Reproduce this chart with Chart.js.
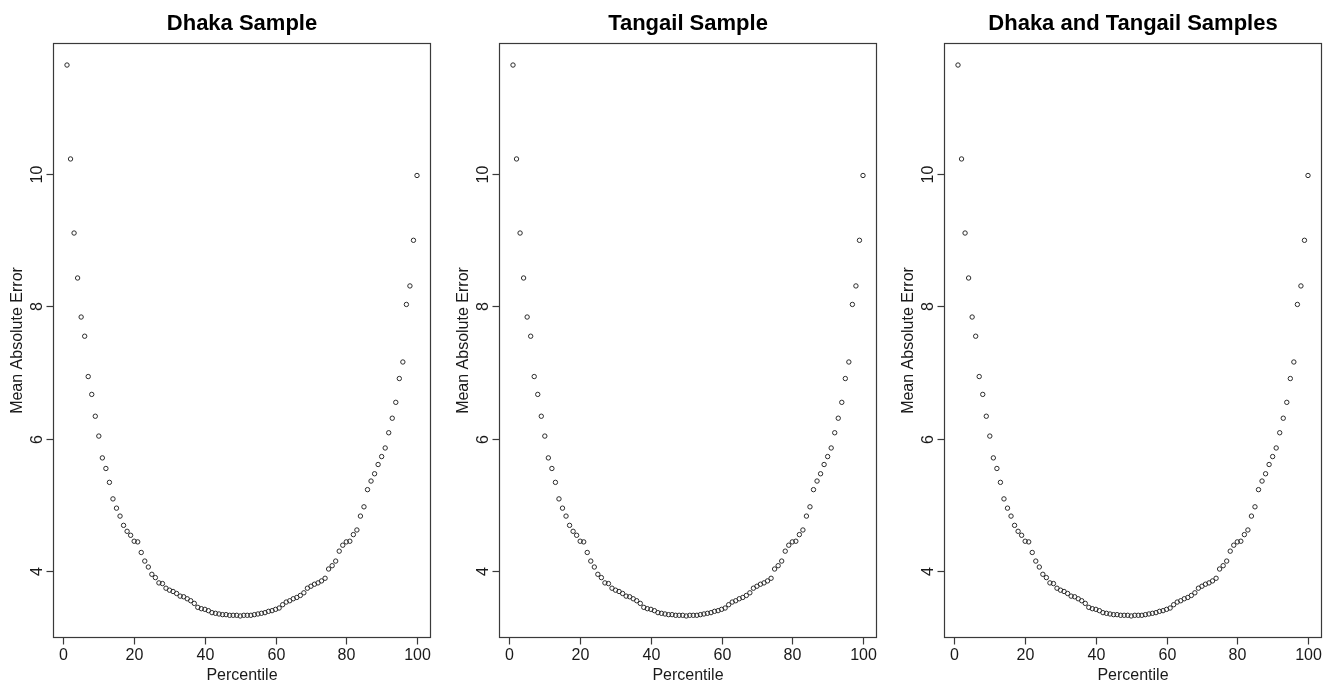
<!DOCTYPE html>
<html>
<head>
<meta charset="utf-8">
<script src="https://cdn.jsdelivr.net/npm/chart.js@4"></script>
<style>
  html, body { margin: 0; padding: 0; background: #ffffff; }
  #wrap { position: relative; width: 1328px; height: 683px; overflow: hidden; }
  .panel { position: absolute; top: 0; width: 437px; height: 683px; }
</style>
</head>
<body>
<div id="wrap">
  <div class="panel" style="left:0px"><canvas id="c0" width="437" height="683"></canvas></div>
  <div class="panel" style="left:446px"><canvas id="c1" width="437" height="683"></canvas></div>
  <div class="panel" style="left:891px"><canvas id="c2" width="437" height="683"></canvas></div>
</div>
<script>
const percentiles = [1,2,3,4,5,6,7,8,9,10,11,12,13,14,15,16,17,18,19,20,
  21,22,23,24,25,26,27,28,29,30,31,32,33,34,35,36,37,38,39,40,
  41,42,43,44,45,46,47,48,49,50,51,52,53,54,55,56,57,58,59,60,
  61,62,63,64,65,66,67,68,69,70,71,72,73,74,75,76,77,78,79,80,
  81,82,83,84,85,86,87,88,89,90,91,92,93,94,95,96,97,98,99,100];

const dhakaMAE = [11.65,10.23,9.11,8.43,7.84,7.55,6.94,6.67,6.34,6.04,
  5.71,5.55,5.34,5.09,4.95,4.83,4.69,4.60,4.54,4.45,
  4.44,4.28,4.15,4.06,3.95,3.90,3.82,3.81,3.74,3.71,
  3.69,3.66,3.62,3.61,3.58,3.55,3.51,3.45,3.43,3.42,
  3.40,3.37,3.36,3.35,3.34,3.34,3.33,3.33,3.33,3.32,
  3.33,3.33,3.33,3.34,3.35,3.36,3.37,3.39,3.40,3.42,
  3.44,3.49,3.53,3.55,3.58,3.60,3.63,3.67,3.74,3.77,
  3.80,3.82,3.85,3.89,4.03,4.08,4.15,4.30,4.39,4.44,
  4.45,4.55,4.62,4.83,4.97,5.23,5.36,5.47,5.61,5.73,
  5.86,6.09,6.31,6.55,6.91,7.16,8.03,8.31,9.00,9.98];

const tangailMAE = [11.65,10.23,9.11,8.43,7.84,7.55,6.94,6.67,6.34,6.04,
  5.71,5.55,5.34,5.09,4.95,4.83,4.69,4.60,4.54,4.45,
  4.44,4.28,4.15,4.06,3.95,3.90,3.82,3.81,3.74,3.71,
  3.69,3.66,3.62,3.61,3.58,3.55,3.51,3.45,3.43,3.42,
  3.40,3.37,3.36,3.35,3.34,3.34,3.33,3.33,3.33,3.32,
  3.33,3.33,3.33,3.34,3.35,3.36,3.37,3.39,3.40,3.42,
  3.44,3.49,3.53,3.55,3.58,3.60,3.63,3.67,3.74,3.77,
  3.80,3.82,3.85,3.89,4.03,4.08,4.15,4.30,4.39,4.44,
  4.45,4.55,4.62,4.83,4.97,5.23,5.36,5.47,5.61,5.73,
  5.86,6.09,6.31,6.55,6.91,7.16,8.03,8.31,9.00,9.98];

const combinedMAE = [11.65,10.23,9.11,8.43,7.84,7.55,6.94,6.67,6.34,6.04,
  5.71,5.55,5.34,5.09,4.95,4.83,4.69,4.60,4.54,4.45,
  4.44,4.28,4.15,4.06,3.95,3.90,3.82,3.81,3.74,3.71,
  3.69,3.66,3.62,3.61,3.58,3.55,3.51,3.45,3.43,3.42,
  3.40,3.37,3.36,3.35,3.34,3.34,3.33,3.33,3.33,3.32,
  3.33,3.33,3.33,3.34,3.35,3.36,3.37,3.39,3.40,3.42,
  3.44,3.49,3.53,3.55,3.58,3.60,3.63,3.67,3.74,3.77,
  3.80,3.82,3.85,3.89,4.03,4.08,4.15,4.30,4.39,4.44,
  4.45,4.55,4.62,4.83,4.97,5.23,5.36,5.47,5.61,5.73,
  5.86,6.09,6.31,6.55,6.91,7.16,8.03,8.31,9.00,9.98];

const panelTitles = ['Dhaka Sample', 'Tangail Sample', 'Dhaka and Tangail Samples'];
const xTicks = [0, 20, 40, 60, 80, 100];
const yTicks = [4, 6, 8, 10];
const xLabel = 'Percentile';
const yLabel = 'Mean Absolute Error';

const FONT = '"Liberation Sans", Arial, Helvetica, sans-serif';

// R-style frame, ticks, labels and title drawn through the chart's own scales
const rStyle = {
  id: 'rStyle',
  afterDraw(chart, args, opts) {
    const ctx = chart.ctx;
    const a = chart.chartArea;
    const xs = chart.scales.x, ys = chart.scales.y;
    ctx.save();
    ctx.strokeStyle = '#3a3a3a';
    ctx.lineWidth = 1.2;
    const L = Math.round(a.left) + 0.5, T = Math.round(a.top) + 0.5;
    const R = Math.round(a.right) - 0.5, B = Math.round(a.bottom) - 0.5;
    ctx.strokeRect(L, T, R - L, B - T);

    ctx.fillStyle = '#1a1a1a';
    ctx.font = '16px ' + FONT;
    // x ticks
    ctx.textAlign = 'center';
    ctx.textBaseline = 'alphabetic';
    xTicks.forEach(v => {
      const px = Math.round(xs.getPixelForValue(v)) + 0.5;
      ctx.beginPath(); ctx.moveTo(px, B); ctx.lineTo(px, B + 7); ctx.stroke();
      ctx.fillText(String(v), px, B + 22);
    });
    // y ticks (rotated labels, R default)
    yTicks.forEach(v => {
      const py = Math.round(ys.getPixelForValue(v)) + 0.5;
      ctx.beginPath(); ctx.moveTo(L - 7, py); ctx.lineTo(L, py); ctx.stroke();
      ctx.save();
      ctx.translate(L - 11.5, py);
      ctx.rotate(-Math.PI / 2);
      ctx.textAlign = 'center';
      ctx.fillText(String(v), 0, 0);
      ctx.restore();
    });
    // axis titles
    const cx = (a.left + a.right) / 2, cy = (a.top + a.bottom) / 2;
    ctx.textAlign = 'center';
    ctx.fillText(xLabel, cx, 680);
    ctx.save();
    ctx.translate(21.5, cy);
    ctx.rotate(-Math.PI / 2);
    ctx.fillText(yLabel, 0, 0);
    ctx.restore();
    // main title
    ctx.font = 'bold 22px ' + FONT;
    ctx.fillStyle = '#000';
    ctx.fillText(opts.title || '', cx, 30);
    ctx.restore();
  }
};

function makeChart(id, title, values) {
  const lo = Math.min(...values), hi = Math.max(...values);
  const xr = percentiles[percentiles.length - 1] - percentiles[0];
  const yr = hi - lo;
  new Chart(document.getElementById(id), {
    type: 'scatter',
    data: {
      datasets: [{
        data: percentiles.map((p, i) => ({ x: p, y: values[i] })),
        pointStyle: 'circle',
        pointRadius: 2.2,
        pointHoverRadius: 2.2,
        borderWidth: 1,
        borderColor: '#2b2b2b',
        backgroundColor: 'rgba(255,255,255,0)',
        showLine: false
      }]
    },
    options: {
      responsive: false,
      animation: false,
      devicePixelRatio: 1,
      layout: { padding: { top: 43, right: 6, left: 0, bottom: 0 } },
      plugins: {
        legend: { display: false },
        tooltip: { enabled: false },
        title: { display: false },
        rStyle: { title: title }
      },
      scales: {
        x: {
          type: 'linear',
          min: percentiles[0] - 0.04 * xr,
          max: percentiles[percentiles.length - 1] + 0.04 * xr,
          grid: { display: false },
          border: { display: false },
          ticks: { display: false },
          afterFit(s) { s.height = 45; }
        },
        y: {
          type: 'linear',
          min: lo - 0.04 * yr,
          max: hi + 0.04 * yr,
          grid: { display: false },
          border: { display: false },
          ticks: { display: false },
          afterFit(s) { s.width = 53; }
        }
      }
    },
    plugins: [rStyle]
  });
}

makeChart('c0', panelTitles[0], dhakaMAE);
makeChart('c1', panelTitles[1], tangailMAE);
makeChart('c2', panelTitles[2], combinedMAE);
</script>
</body>
</html>
